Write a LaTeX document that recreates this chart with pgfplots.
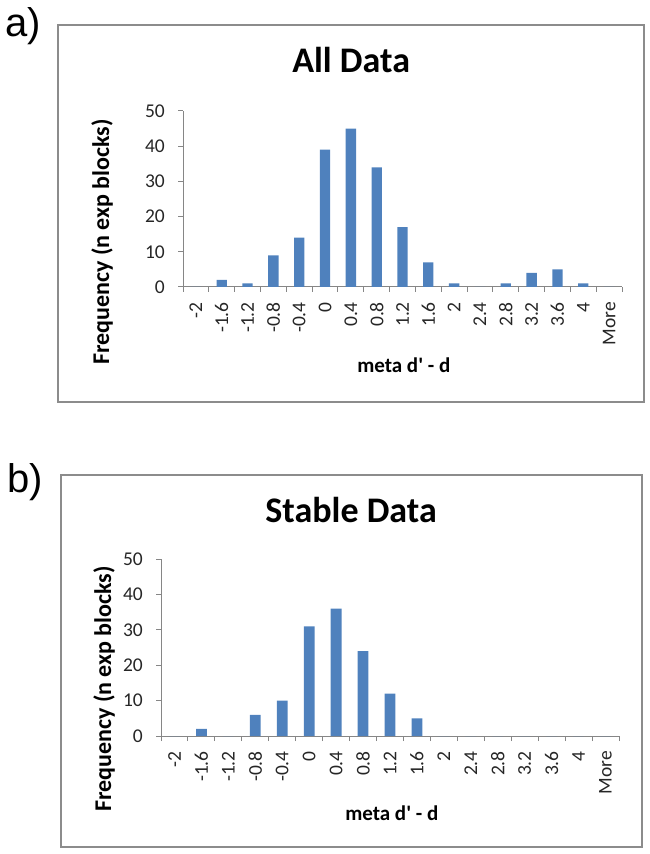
\documentclass[border=0pt]{standalone}
\usepackage{pgfplots}
\pgfplotsset{compat=1.18}
\usepackage{fontspec}
\setmainfont{Carlito}
\newfontfamily\arialfont{Liberation Sans}
\definecolor{barblue}{HTML}{4F81BD}
\definecolor{axgray}{HTML}{868686}
\definecolor{boxgray}{HTML}{8C8C8C}
\definecolor{txt}{HTML}{262626}
\pgfplotsset{
  mystyle/.style={
    scale only axis,
    xmin=-0.5, xmax=16.5, ymin=0, ymax=50,
    ytick={0,10,...,50},
    xtick={0,...,16},
    xticklabels={-2,-1.6,-1.2,-0.8,-0.4,0,0.4,0.8,1.2,1.6,2,2.4,2.8,3.2,3.6,4,More},
    minor xtick={-0.5,0.5,...,16.5},
    axis x line*=bottom, axis y line*=left,
    axis line style={axgray, line width=1pt},
    major x tick style={draw=none},
    minor x tick style={axgray, line width=1pt},
    ytick style={axgray, line width=1pt},
    tick align=outside,
    major tick length=5pt, minor tick length=5pt,
    xticklabel style={rotate=90, anchor=east, inner sep=0pt, text=txt, font=\fontsize{19.5}{22}\selectfont},
    yticklabel style={anchor=east, inner sep=0pt, text=txt, font=\fontsize{19.5}{22}\selectfont},
    xticklabel shift=10pt,
    yticklabel shift=13pt,
    /pgf/number format/assume math mode=true,
    ybar, bar width=0.4,
    title style={font=\fontsize{36}{40}\selectfont\bfseries, anchor=center},
    xlabel style={font=\fontsize{21}{24}\selectfont\bfseries, anchor=center},
    ylabel style={font=\fontsize{24}{27}\selectfont\bfseries, anchor=center},
  }
}
\begin{document}
\begin{tikzpicture}[x=1pt,y=1pt]
\useasboundingbox (0,0) rectangle (650,854);
% frames
\draw[boxgray, line width=2pt] (58,452) rectangle (644,829);
\draw[boxgray, line width=2pt] (61,7) rectangle (642,379);
\node[font=\arialfont\fontsize{40}{44}\selectfont] at (23,828) {a)};
\node[font=\arialfont\fontsize{40}{44}\selectfont] at (25,372) {b)};

\begin{axis}[mystyle, width=439pt, height=176pt,
  at={(183pt,567pt)}, anchor=south west,
  title={All Data}, title style={at={(axis description cs:0.383,1.255)}},
  xlabel={meta d\textquotesingle\ - d}, xlabel style={at={(axis description cs:0.503,-0.443)}},
  ylabel={Frequency (n exp blocks)}, ylabel style={at={(axis description cs:-0.1845,0.256)}},
]
\addplot[fill=barblue, draw=none] coordinates {
(0,0) (1,2) (2,1) (3,9) (4,14) (5,39) (6,45) (7,34) (8,17)
(9,7) (10,1) (11,0) (12,1) (13,4) (14,5) (15,1) (16,0)};
\end{axis}

\begin{axis}[mystyle, width=458pt, height=177pt,
  at={(161pt,118pt)}, anchor=south west,
  title={Stable Data}, title style={at={(axis description cs:0.415,1.245)}},
  xlabel={meta d\textquotesingle\ - d}, xlabel style={at={(axis description cs:0.504,-0.435)}},
  ylabel={Frequency (n exp blocks)}, ylabel style={at={(axis description cs:-0.1245,0.266)}},
]
\addplot[fill=barblue, draw=none] coordinates {
(0,0) (1,2) (2,0) (3,6) (4,10) (5,31) (6,36) (7,24) (8,12)
(9,5) (10,0) (11,0) (12,0) (13,0) (14,0) (15,0) (16,0)};
\end{axis}
\end{tikzpicture}
\end{document}
